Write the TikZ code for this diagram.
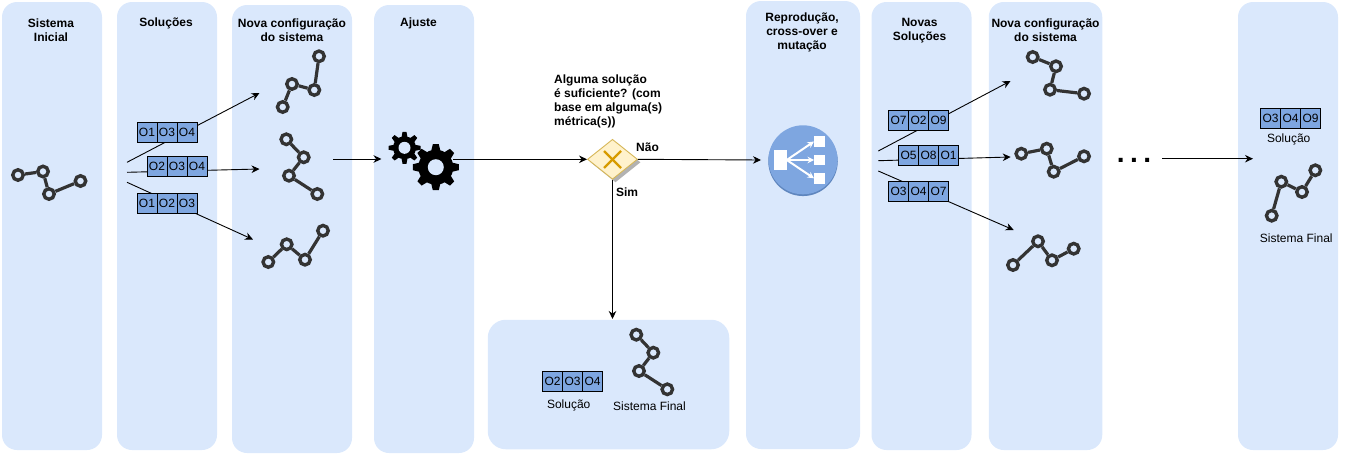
\documentclass[tikz,border=0pt]{standalone}
\usepackage{fontspec}
\setmainfont{Liberation Sans}
\usetikzlibrary{arrows.meta,shapes.geometric}
\definecolor{panelblue}{HTML}{DAE8FC}
\definecolor{cellblue}{HTML}{7EA6E0}
\definecolor{cellshade}{HTML}{5F86BE}
\definecolor{glyphgrey}{HTML}{333333}
\definecolor{gatefill}{HTML}{FFF2CC}
\definecolor{gateline}{HTML}{D6B656}
\definecolor{gatecross}{HTML}{D79B00}
\tikzset{
  panel/.style={fill=panelblue,draw=none,rounded corners=15pt,inner sep=0pt,outer sep=0pt},
  title/.style={font=\fontsize{12}{14}\selectfont\bfseries,align=center,inner sep=0pt,text=black},
  caption/.style={font=\fontsize{12}{14}\selectfont,align=center,inner sep=0pt,text=black},
  cell/.style={draw=black,line width=0.9pt,fill=cellblue,minimum width=20pt,minimum height=20pt,inner sep=0pt,
    font=\fontsize{12}{14}\selectfont,text=black},
  joint/.style={circle,draw=glyphgrey,line width=3.4pt,fill=panelblue,minimum size=10.5pt,inner sep=0pt},
  link/.style={draw=glyphgrey,line width=3.2pt},
  flow/.style={draw=black,line width=0.9pt,-{Stealth[length=8pt,width=7.5pt]}},
  flowline/.style={draw=black,line width=0.9pt},
  whitebox/.style={fill=white,draw=none,inner sep=0pt},
  whitearrow/.style={draw=white,line width=2pt,-{Stealth[length=6.5pt,width=6.5pt]}},
  anchorpt/.style={coordinate}
}
\newcommand{\trio}[6]{%
  \node[cell] (#1a) at ({#2-20},#3) {#4};
  \node[cell] (#1b) at (#2,#3) {#5};
  \node[cell] (#1c) at ({#2+20},#3) {#6};
}
\newcommand{\chain}[9]{%
  \node[joint] (#1p) at (#2,#3) {};
  \node[joint] (#1q) at (#4,#5) {};
  \node[joint] (#1r) at (#6,#7) {};
  \node[joint] (#1s) at (#8,#9) {};
  \draw[link] (#1p) -- (#1q);
  \draw[link] (#1q) -- (#1r);
  \draw[link] (#1r) -- (#1s);
}
\newcommand{\gear}[6]{%
  % name, x, y, body radius, tooth radius, hole radius
  \node[circle,fill=black,minimum size={2*#4},inner sep=0pt] (#1) at (#2,#3) {};
  \foreach \a in {0,45,...,315}{
    \fill[black,shift={(#2,#3)},rotate=\a]
      ({#4-1},{-0.26*#4}) -- (#5,{-0.17*#4}) -- (#5,{0.17*#4}) -- ({#4-1},{0.26*#4}) -- cycle;
  }
  \node[circle,fill=panelblue,minimum size={2*#6},inner sep=0pt] at (#2,#3) {};
}
\begin{document}
\begin{tikzpicture}[x=1pt,y=-1pt]
\useasboundingbox (0,0) rectangle (1354,455);
% panels
\node[panel,minimum width=100pt,minimum height=448pt] (pa) at (52,226) {};
\node[panel,minimum width=100pt,minimum height=448pt] (pb) at (167,226) {};
\node[panel,minimum width=120pt,minimum height=448pt] (pc) at (292,229) {};
\node[panel,minimum width=100pt,minimum height=448pt] (pd) at (424,229) {};
\node[panel,minimum width=114pt,minimum height=448pt] (pe) at (803,225) {};
\node[panel,minimum width=100pt,minimum height=448pt] (pf) at (921.5,226) {};
\node[panel,minimum width=113.5pt,minimum height=448pt] (pg) at (1045.5,226) {};
\node[panel,minimum width=100pt,minimum height=448pt] (ph) at (1288,226) {};
\node[panel,rounded corners=18pt,minimum width=241.5pt,minimum height=129.5pt] (pi) at (608.5,384.5) {};
% titles
\node[title] (ta) at (51,30.5) {Sistema\\Inicial};
\node[title] (tb) at (166,23.5) {Soluções};
\node[title] (tc) at (292,30.5) {Nova configuração\\do sistema};
\node[title] (td) at (418.5,23.5) {Ajuste};
\node[title] (te) at (802,32.5) {Reprodução,\\cross-over e\\mutação};
\node[title] (tf) at (919.5,30.5) {Novas\\Soluções};
\node[title] (tg) at (1045.5,30.5) {Nova configuração\\do sistema};
\node[title,align=left,anchor=north west] (tq) at (554,74.5) {Alguma solução\\é suficiente? (com\\base em alguma(s)\\métrica(s))};
\node[title] (tn) at (647.5,147) {Não};
\node[title] (ts) at (627,192) {Sim};
% connector end points
\node[anchorpt] (s1) at (127,162.3) {};
\node[anchorpt] (s2) at (127,172.3) {};
\node[anchorpt] (s3) at (127,182.3) {};
\node[anchorpt] (e1) at (259.5,93) {};
\node[anchorpt] (e2) at (259.5,169) {};
\node[anchorpt] (e3) at (253,239.5) {};
\node[anchorpt] (s4) at (878.3,151) {};
\node[anchorpt] (s5) at (878.3,160.7) {};
\node[anchorpt] (s6) at (878.3,171) {};
\node[anchorpt] (e4) at (1010.5,81) {};
\node[anchorpt] (e5) at (1010.7,157) {};
\node[anchorpt] (e6) at (1013.7,230) {};
\node[anchorpt] (c1) at (333,159) {};
\node[anchorpt] (c2) at (381.5,159) {};
\node[anchorpt] (g1) at (453,159.3) {};
\node[anchorpt] (r1) at (761,160) {};
\node[anchorpt] (b1) at (612.5,319) {};
\node[anchorpt] (d1) at (1162.3,158.7) {};
\node[anchorpt] (d2) at (1253,158.7) {};
% connectors behind the boxes
\draw[flow] (s1) -- (e1);
\draw[flow] (s2) -- (e2);
\draw[flow] (s3) -- (e3);
\draw[flow] (s4) -- (e4);
\draw[flow] (s5) -- (e5);
\draw[flow] (s6) -- (e6);
\draw[flow] (c1) -- (c2);
\draw[flow] (d1) -- (d2);
% operator boxes
\trio{u}{167}{132.7}{O1}{O3}{O4}
\trio{v}{177}{166.5}{O2}{O3}{O4}
\trio{w}{167}{203.3}{O1}{O2}{O3}
\trio{x}{918.5}{120.8}{O7}{O2}{O9}
\trio{y}{928.5}{155}{O5}{O8}{O1}
\trio{z}{918.5}{191.8}{O3}{O4}{O7}
\trio{k}{1290.5}{118.6}{O3}{O4}{O9}
\trio{m}{572.5}{381.5}{O2}{O3}{O4}
% network glyphs
\chain{ga}{18}{175}{43}{171.5}{49}{194}{80.5}{181}
\chain{gb}{282.7}{107}{292}{84}{314.3}{90}{319}{56.3}
\chain{gc}{286.3}{139.3}{303.7}{157.3}{289}{175.7}{317.3}{194}
\chain{gd}{268.3}{262}{286.7}{244.3}{305}{259.7}{323}{230.7}
\chain{ge}{1032.7}{57}{1056}{66.3}{1050}{89.7}{1084}{93.7}
\chain{gf}{1021.3}{153.7}{1046.7}{148.7}{1053.7}{171.7}{1084}{156.3}
\chain{gg}{1013}{265}{1038}{241.3}{1052}{260.3}{1073.7}{248.7}
\chain{gh}{1271.7}{215.7}{1281.3}{181.7}{1302}{192}{1315.3}{170.3}
\chain{gi}{636.3}{334.7}{653.3}{352.7}{639}{371}{667.3}{389.3}
% captions
\node[caption] (ca) at (568.7,405.5) {Solução};
\node[caption] (cb) at (649.5,406.5) {Sistema Final};
\node[caption] (cc) at (1288.7,139) {Solução};
\node[caption] (cd) at (1296.3,238.5) {Sistema Final};
% gears
\gear{gs}{404.5}{147.8}{11.5}{16}{6}
\gear{gl}{435.8}{167.2}{17.5}{23}{8}
% decision
\node[diamond,fill=black!30,draw=none,minimum width=50pt,minimum height=40pt,inner sep=0pt] (ds) at (615.5,162.3) {};
\node[diamond,fill=gatefill,draw=gateline,line width=0.9pt,minimum width=50pt,minimum height=40pt,inner sep=0pt] (dq) at (612.5,159.3) {};
\draw[gatecross,line width=2.2pt] (604,151) -- (621,168);
\draw[gatecross,line width=2.2pt] (621,151) -- (604,168);
\draw[flow] (g1) -- (dq.west);
\draw[flow] (dq.east) -- (r1);
\draw[flow] (dq.south) -- (b1);
% reproduction icon
\node[circle,fill=cellshade,minimum size=69.5pt,inner sep=0pt] (rb) at (803,161.3) {};
\node[circle,fill=cellblue,minimum size=69pt,inner sep=0pt] (rc) at (803,159.8) {};
\node[whitebox,minimum width=12.5pt,minimum height=20pt] (ra) at (780.3,160) {};
\node[whitebox,minimum width=11pt,minimum height=11pt] (r2) at (819.7,141.5) {};
\node[whitebox,minimum width=11pt,minimum height=10.5pt] (r3) at (819.7,160) {};
\node[whitebox,minimum width=11pt,minimum height=11pt] (r4) at (819.7,178.3) {};
\draw[whitearrow] (ra.east) -- (r2.west);
\draw[whitearrow] (ra.east) -- (r3.west);
\draw[whitearrow] (ra.east) -- (r4.west);
% ellipsis
\node[font=\fontsize{28}{30}\selectfont\bfseries,anchor=base,inner sep=0pt] (dots) at (1134,162) {.\kern5.5pt.\kern5.5pt.};
\end{tikzpicture}
\end{document}
